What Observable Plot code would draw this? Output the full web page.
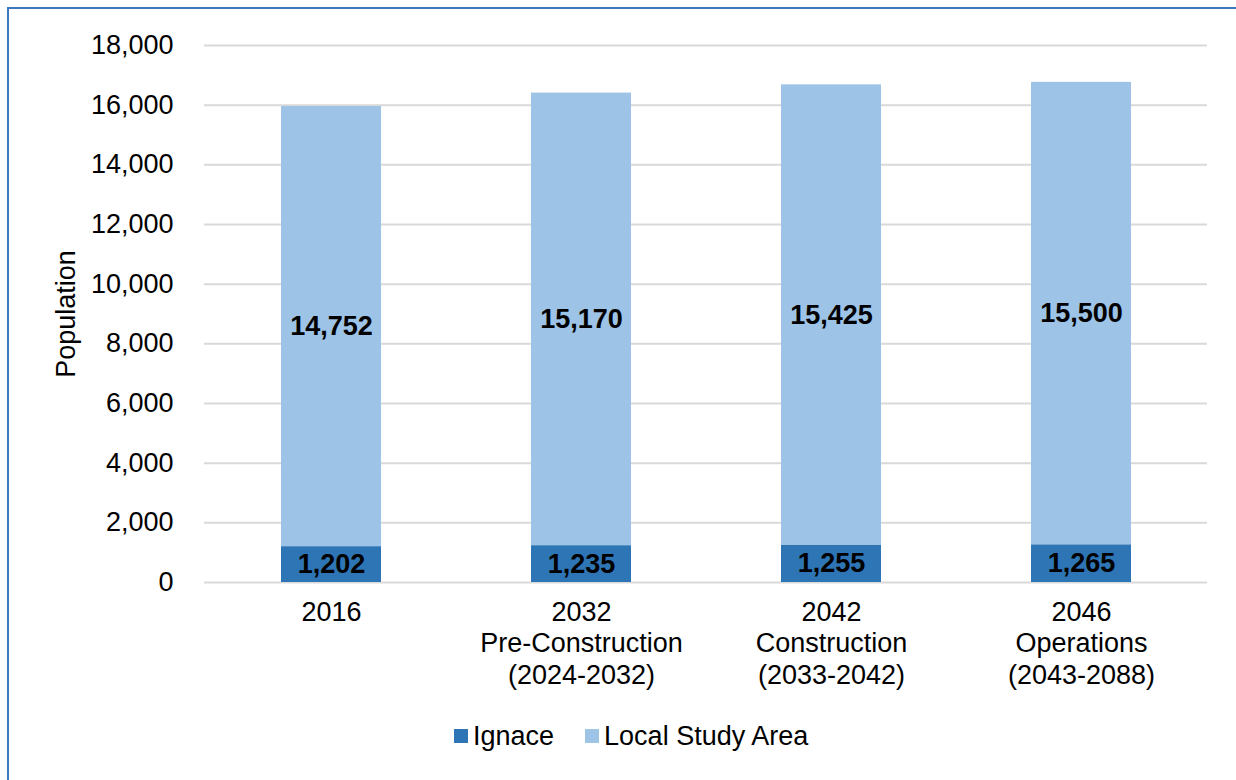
<!DOCTYPE html>
<html><head><meta charset="utf-8">
<script src="https://cdn.jsdelivr.net/npm/d3@7"></script>
<script src="https://cdn.jsdelivr.net/npm/@observablehq/plot@0.6"></script>
<style>
html,body{margin:0;padding:0;background:#fff;overflow:hidden;}
#wrap{position:relative;width:1236px;height:780px;font-family:"Liberation Sans",Arial,sans-serif;}
#frame{position:absolute;left:7px;top:7px;width:1400px;height:900px;border-left:2px solid #3B78BE;border-top:2px solid #3B78BE;box-sizing:border-box;}
#chart{position:absolute;left:0;top:0;}
#legend{position:absolute;top:722px;left:454px;height:28px;display:flex;align-items:center;font-size:27px;color:#000;white-space:nowrap;}
.item{display:flex;align-items:center;margin-right:31px;}
.sw{width:14px;height:14px;margin-right:5px;}
</style>
</head><body>
<div id="wrap"><div id="frame"></div><div id="chart"></div><div id="legend"></div></div>
<script>
const categories = ["2016", "2032", "2042", "2046"];
const phases = ["", "Pre-Construction\n(2024-2032)", "Construction\n(2033-2042)", "Operations\n(2043-2088)"];
const seriesNames = ["Ignace", "Local Study Area"];
const ignace = [1202, 1235, 1255, 1265];
const localStudyArea = [14752, 15170, 15425, 15500];
const yTicks = [0, 2000, 4000, 6000, 8000, 10000, 12000, 14000, 16000, 18000];
const colors = ["#2E75B6", "#9DC3E6"];

const rows = [];
categories.forEach((c, i) => {
  rows.push({cat: c, series: seriesNames[0], value: ignace[i]});
  rows.push({cat: c, series: seriesNames[1], value: localStudyArea[i]});
});
const labelOf = Object.fromEntries(categories.map((c, i) => [c, phases[i] ? c + "\n" + phases[i] : c]));
const fmt = d3.format(",");
const stackOpts = {x: "cat", y: "value", z: "series", order: seriesNames};
const font = "'Liberation Sans', Arial, sans-serif";

const chart = Plot.plot({
  width: 1236, height: 700,
  marginTop: 45, marginBottom: 118, marginLeft: 204, marginRight: 29,
  style: {fontFamily: font, fontSize: "27px", color: "#000", background: "transparent"},
  x: {domain: categories, paddingInner: 0.6, paddingOuter: 0.3, label: null},
  y: {domain: [0, 18000], label: null},
  color: {domain: seriesNames, range: colors},
  marks: [
    Plot.gridY(yTicks, {stroke: "#D9D9D9", strokeOpacity: 1, strokeWidth: 2}),
    Plot.barY(rows, {...stackOpts, fill: "series"}),
    Plot.text(rows, Plot.stackY({...stackOpts, text: d => fmt(d.value), fontWeight: "bold", fontSize: 27, fill: "#000"})),
    Plot.axisY({ticks: yTicks, tickFormat: fmt, tickSize: 0, tickPadding: 31, label: "Population", labelAnchor: "center", labelArrow: "none", labelOffset: 149, fontSize: 27, fill: "#000"}),
    Plot.axisX({tickFormat: c => labelOf[c], tickSize: 0, tickPadding: 16, lineHeight: 1.167, label: null, fontSize: 27, fill: "#000"})
  ]
});
document.getElementById("chart").appendChild(chart);

const legend = document.getElementById("legend");
seriesNames.forEach((s, i) => {
  const it = document.createElement("div");
  it.className = "item";
  const sw = document.createElement("div");
  sw.className = "sw";
  sw.style.background = colors[i];
  const tx = document.createElement("span");
  tx.textContent = s;
  it.appendChild(sw); it.appendChild(tx);
  legend.appendChild(it);
});
</script>
</body></html>
